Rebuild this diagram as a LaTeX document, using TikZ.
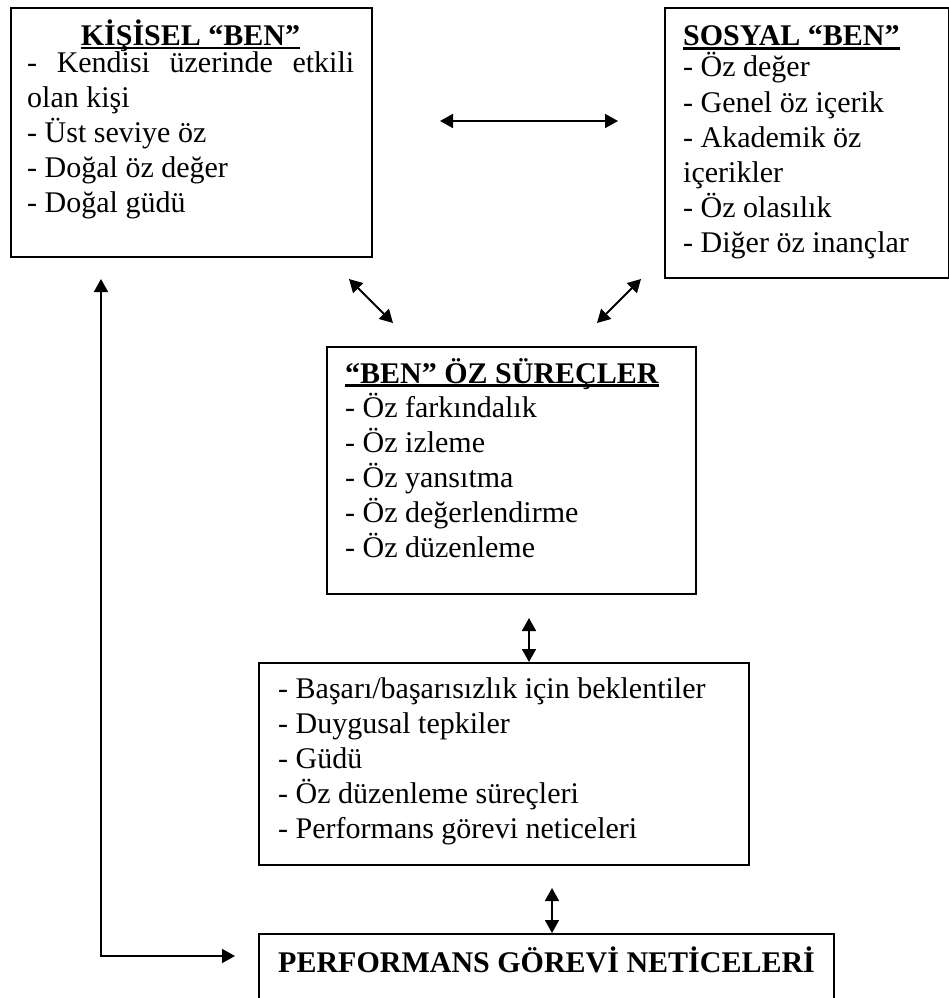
\documentclass[tikz,border=0pt]{standalone}
\usepackage{fontspec}
\setmainfont{Liberation Serif}
\usetikzlibrary{arrows.meta}

\tikzset{
  box/.style={draw, line width=1.7pt, inner sep=0pt, anchor=north west},
  item/.style={anchor=base west, inner sep=0pt, font=\fontsize{30pt}{35pt}\selectfont},
  head/.style={item, font=\fontsize{30pt}{35pt}\selectfont\bfseries},
  uline/.style={line width=2.4pt},
  dbl/.style={{Triangle[length=13pt,width=14pt]}-{Triangle[length=13pt,width=14pt]}, line width=1.8pt}
}

\begin{document}
\begin{tikzpicture}[x=1pt, y=-1pt]
  \useasboundingbox (0,0) rectangle (949,998);

  % boxes
  \node[box, minimum width=361pt, minimum height=249pt] (kisisel) at (10,7) {};
  \node[box, minimum width=284pt, minimum height=270pt] (sosyal) at (664,7) {};
  \node[box, minimum width=369pt, minimum height=247pt] (surec) at (326,346) {};
  \node[box, minimum width=490pt, minimum height=202pt] (beklenti) at (258,662) {};
  \node[box, minimum width=575pt, minimum height=90pt] (netice) at (258,933) {};

  % KISISEL BEN
  \node[head, anchor=base] (kt) at (190.5,45.5) {KİŞİSEL “BEN”};
  \draw[uline] ([yshift=-2.4pt]kt.base west) -- ([yshift=-2.4pt]kt.base east);
  \foreach \t [count=\i] in {{\makebox[327pt][s]{- Kendisi üzerinde etkili}}, olan kişi,
      - Üst seviye öz, - Doğal öz değer, - Doğal güdü}
    \node[item] (k\i) at (27, {37.5+35*\i}) {\t};

  % SOSYAL BEN
  \node[head] (st) at (683,46) {SOSYAL “BEN”};
  \draw[uline] ([yshift=-2.4pt]st.base west) -- ([yshift=-2.4pt]st.base east);
  \foreach \t [count=\i] in {- Öz değer, - Genel öz içerik, - Akademik öz, içerikler,
      - Öz olasılık, - Diğer öz inançlar}
    \node[item] (s\i) at (683, {42+35*\i}) {\t};

  % BEN OZ SURECLER
  \node[head] (bt) at (345,383) {“BEN” ÖZ SÜREÇLER};
  \draw[uline] ([yshift=-2.4pt]bt.base west) -- ([yshift=-2.4pt]bt.base east);
  \foreach \t [count=\i] in {- Öz farkındalık, - Öz izleme, - Öz yansıtma,
      - Öz değerlendirme, - Öz düzenleme}
    \node[item] (b\i) at (345, {382+35*\i}) {\t};

  % beklentiler
  \foreach \t [count=\i] in {- Başarı/başarısızlık için beklentiler, - Duygusal tepkiler,
      - Güdü, - Öz düzenleme süreçleri, - Performans görevi neticeleri}
    \node[item] (e\i) at (278, {663+35*\i}) {\t};

  % PERFORMANS
  \node[head] (nt) at (278,972) {PERFORMANS GÖREVİ NETİCELERİ};

  % arrows
  \coordinate (h1) at (440,121);
  \coordinate (h2) at (618,121);
  \coordinate (l1) at (349,279);
  \coordinate (l2) at (393,323);
  \coordinate (r1) at (641,279);
  \coordinate (r2) at (597,323);
  \coordinate (v1) at (529,618);
  \coordinate (v2) at (552,888);
  \coordinate (g1) at (101,279);
  \coordinate (g2) at (235,956);
  \draw[dbl] (h1) -- (h2);
  \draw[dbl] (l1) -- (l2);
  \draw[dbl] (r1) -- (r2);
  \draw[dbl] (v1) -- (v1 |- beklenti.north);
  \draw[dbl] (v2) -- (v2 |- netice.north);
  \draw[dbl] (g1) |- (g2);
\end{tikzpicture}
\end{document}
